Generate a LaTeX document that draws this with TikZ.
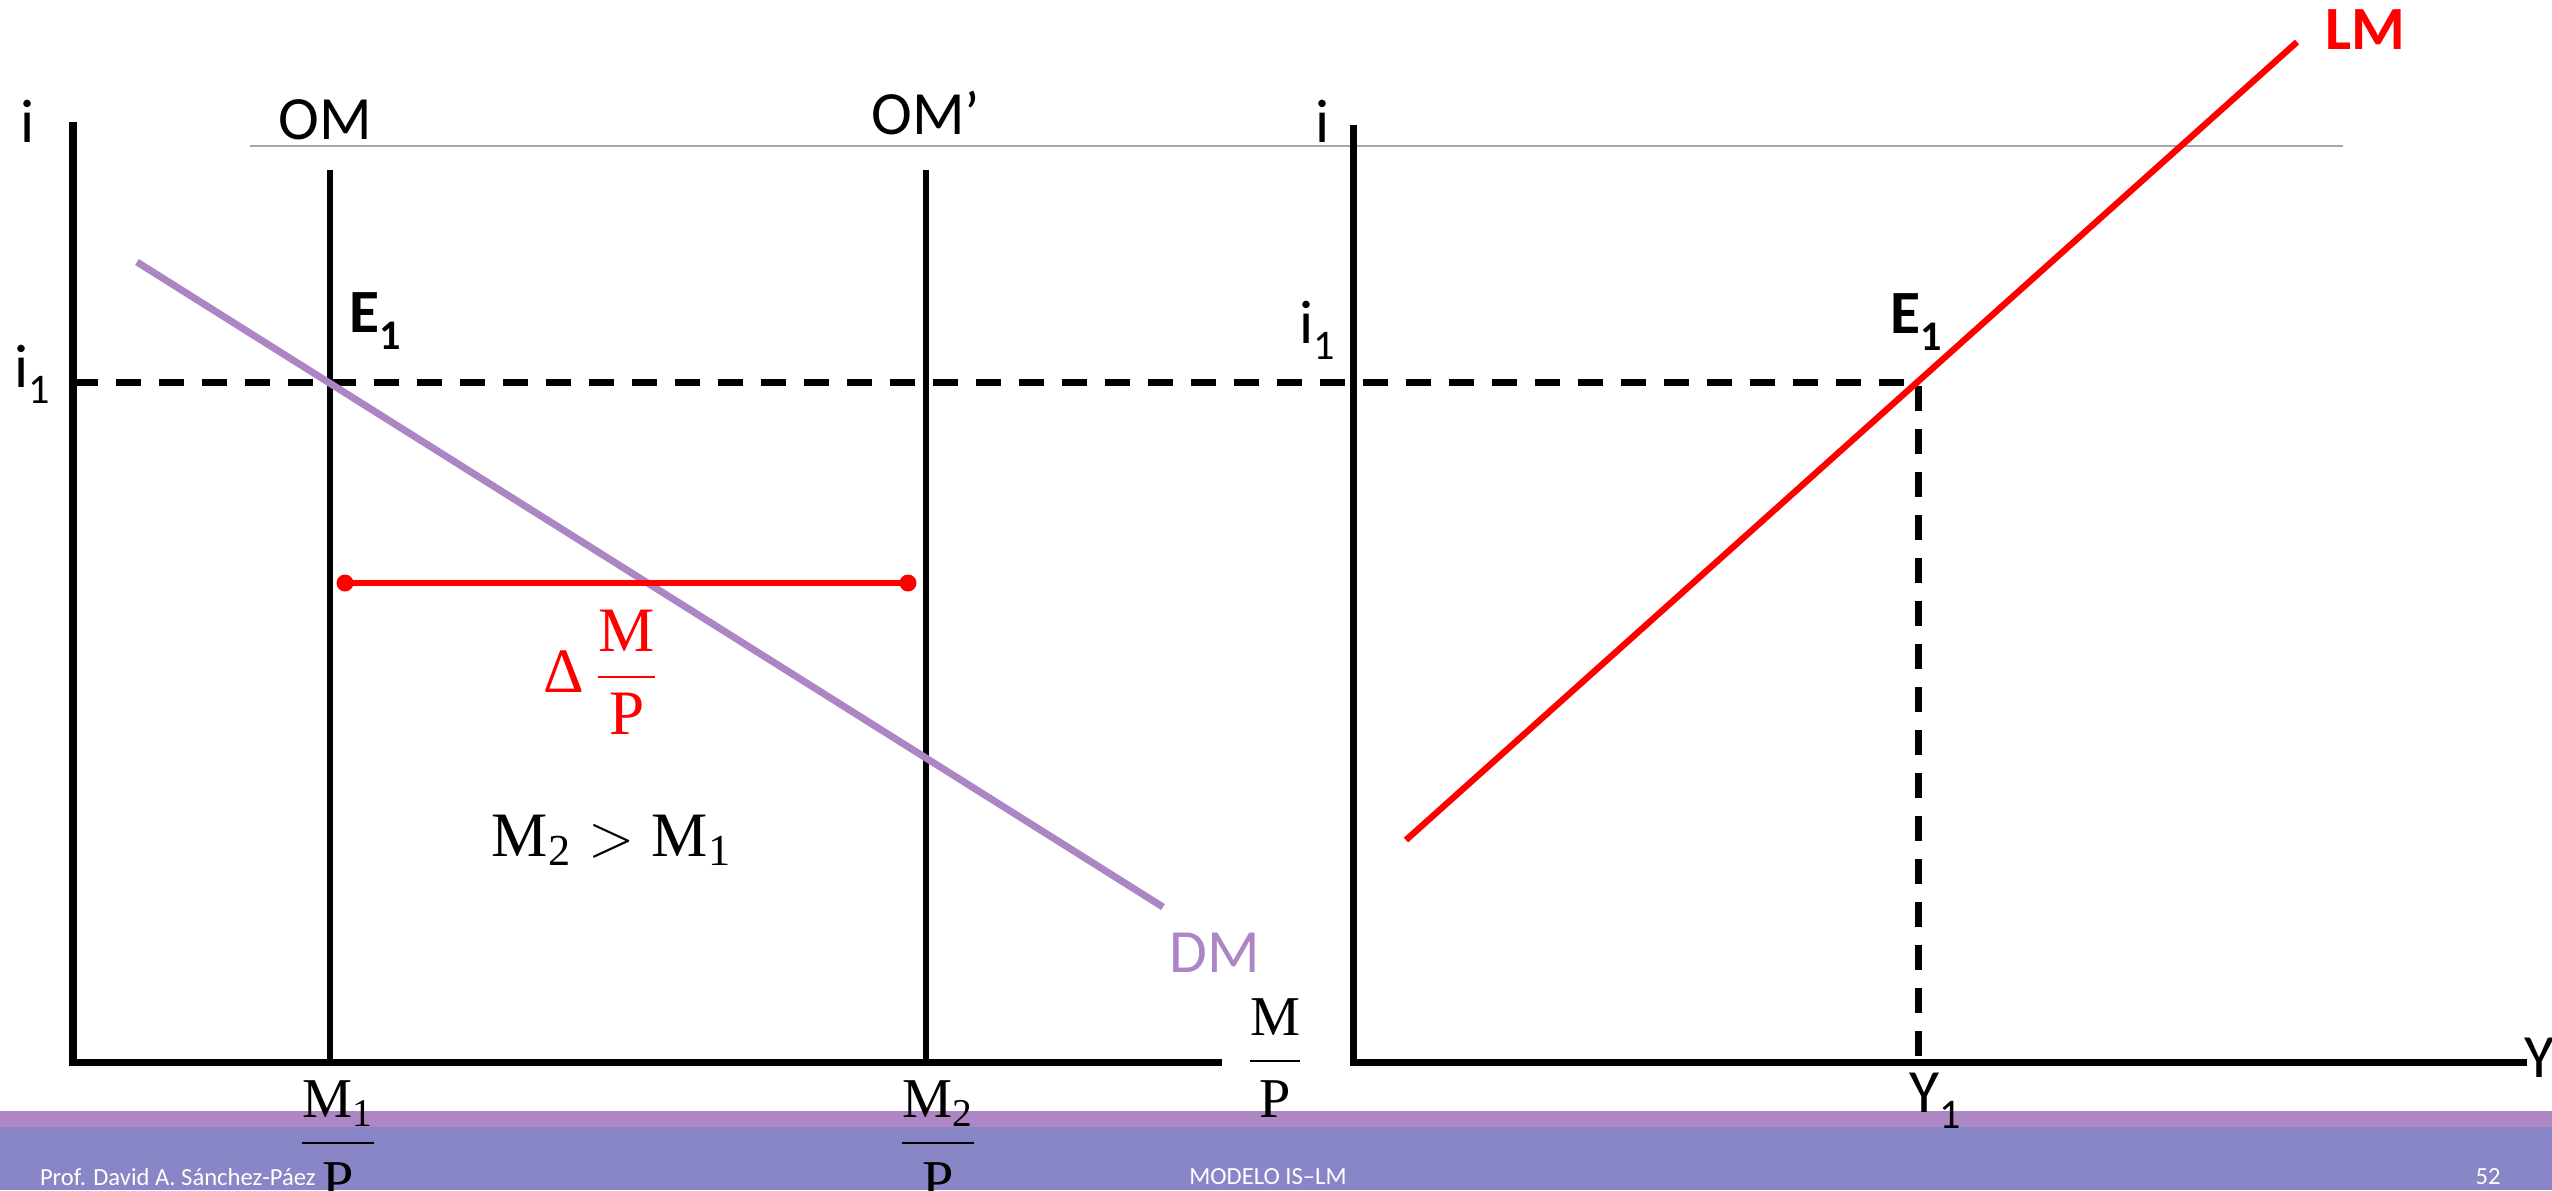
\documentclass[tikz,border=0pt]{standalone}
\usepackage{amsmath}
\usepackage{fontspec}
\setmainfont{Carlito}
\newfontfamily\cambria{Liberation Serif}
\usepackage{tikz}
\usetikzlibrary{positioning,calc}
\definecolor{cDM}{HTML}{AC86C4}
\definecolor{cBandTop}{HTML}{AE86C4}
\definecolor{cBand}{HTML}{8886C6}
\newcommand{\msub}[2]{\text{#1}_{\text{#2}}}
\newcommand{\overP}[1]{$\dfrac{#1}{\text{P}}$}
\newcommand{\lowidx}[1]{\raisebox{-0.55ex}{\fontsize{12}{12}\selectfont #1}}

\begin{document}
\begin{tikzpicture}[x=0.1mm,y=-0.1mm,every node/.style={outer sep=0pt,inner sep=0pt},
  axis/.style={line width=2pt},
  omline/.style={line width=1.8pt},
  guide/.style={line width=2pt,dash pattern=on 2.5mm off 1.8mm},
  lbl/.style={font=\fontsize{17.5}{20}\selectfont},
  mathlbl/.style={font=\cambria\fontsize{16}{19}\selectfont,align=center}]
\useasboundingbox (0,0) rectangle (2552,1190);

% footer band
\fill[cBandTop] (0,1111) rectangle (2552,1127);
\fill[cBand] (0,1127) rectangle (2552,1190);
\node[font=\fontsize{7}{8}\selectfont,text=white,anchor=west] (author) at (40,1177) {Prof. David A. Sánchez-Páez};
\node[font=\fontsize{7}{8}\selectfont,text=white] (title) at (1268,1177) {MODELO IS–LM};
\node[font=\fontsize{7}{8}\selectfont,text=white] (page) at (2488,1177) {52};

% key points
\coordinate (O1) at (73,1062);
\coordinate (O2) at (1353,1062);
\coordinate (E1a) at (330,382);
\coordinate (E1b) at (1918,382);

\draw[gray!70,line width=0.6pt] (250,146) -- (2343,146);

% money market
\draw[axis] (73,122) -- (O1) -- (1222,1062);
\draw[omline] (330,170) -- (330,1062);
\draw[omline] (926,170) -- (926,1062);
\draw[guide] (73,382) -- (E1b) -- (1918,1062);
\draw[cDM,line width=2pt] (137,262) -- (1163,907);
\draw[red,line width=1.8pt] (345,583) -- (908,583);
\fill[red] (345,583) circle [radius=0.85mm];
\fill[red] (908,583) circle [radius=0.85mm];

\node[lbl] (iL) at (28,121) {i};
\node[lbl] (i1L) at (32,374) {i\lowidx{1}};
\node[lbl] (om) at (325,120) {OM};
\node[lbl] (om2) at (926,113) {OM’};
\node[lbl,font=\fontsize{17.5}{20}\selectfont\bfseries] (eL) at (375,321) {E\lowidx{\bfseries 1}};
\node[lbl,text=cDM] (dm) at (1215,953) {DM};
\node[mathlbl,text=red,font=\cambria\fontsize{18}{21}\selectfont] (dmp) at (601,672) {Δ\,\overP{\text{M}}};
\node[mathlbl,font=\cambria\fontsize{18}{21}\selectfont] (cmp) at (612,840) {$\msub{M}{2} > \msub{M}{1}$};
\node[mathlbl] (mpx) at (1275,1058) {\overP{\text{M}}};
\node[mathlbl] (m1) at (338,1140) {\overP{\msub{M}{1}}};
\node[mathlbl] (m2) at (938,1140) {\overP{\msub{M}{2}}};

% LM curve
\draw[axis] (1353,125) -- (O2) -- (2527,1062);
\draw[red,line width=1.8pt] (1406,840) -- (2297,42);

\node[lbl] (iR) at (1323,121) {i};
\node[lbl] (i1R) at (1317,330) {i\lowidx{1}};
\node[lbl,font=\fontsize{17.5}{20}\selectfont\bfseries] (eR) at (1916,322) {E\lowidx{\bfseries 1}};
\node[lbl,font=\fontsize{17.5}{20}\selectfont\bfseries,text=red] (lm) at (2365,30) {LM};
\node[lbl] (y) at (2539,1058) {Y};
\node[lbl] (y1) at (1935,1101) {Y\lowidx{1}};
\end{tikzpicture}
\end{document}
